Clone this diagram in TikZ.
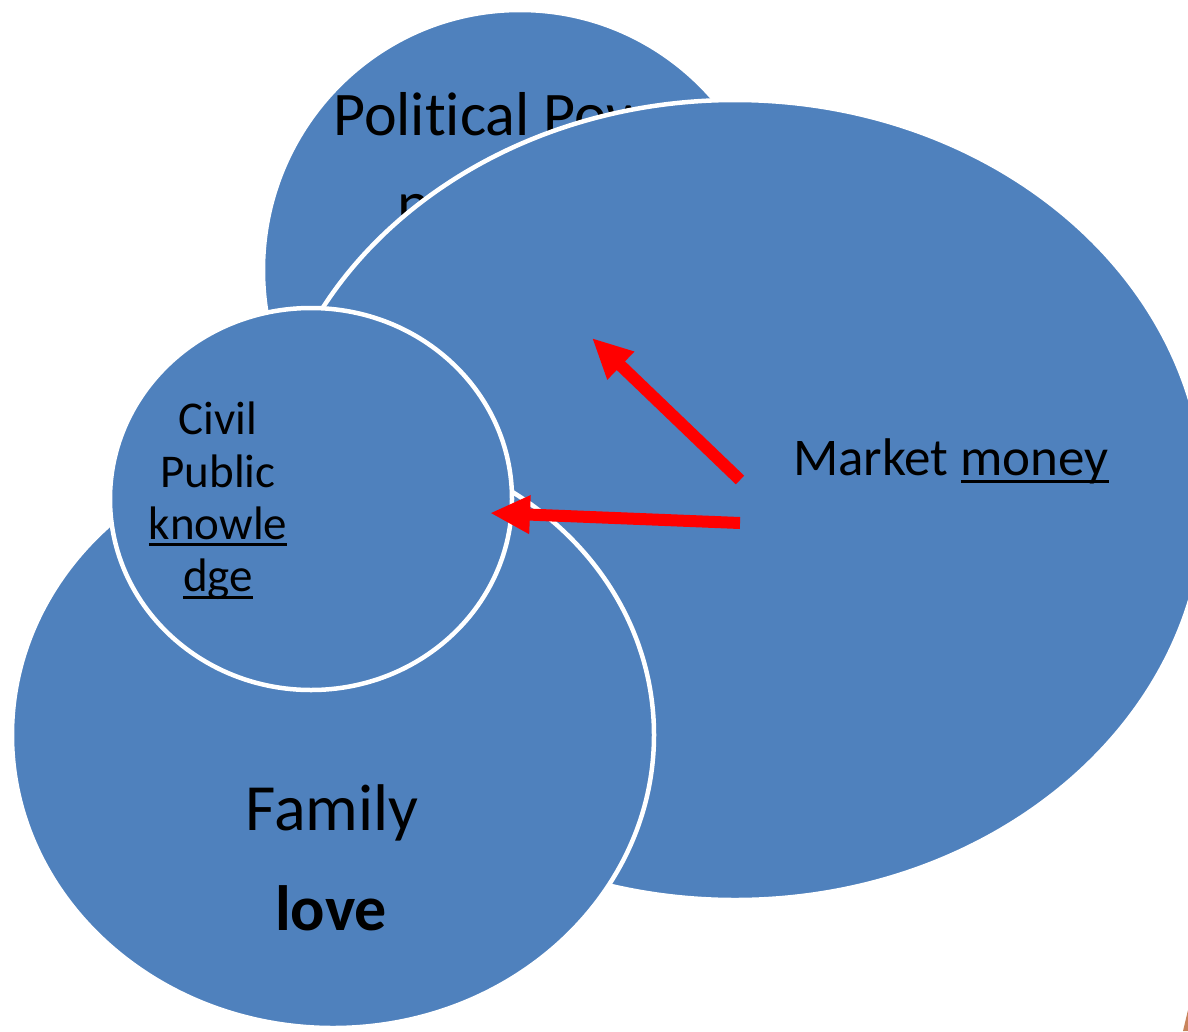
\documentclass[tikz,border=0pt]{standalone}
\usepackage{fontspec}
\setmainfont{Carlito}[RawFeature={-liga;-clig;-dlig}]
\usetikzlibrary{shapes.geometric, arrows.meta}
\definecolor{spherefill}{HTML}{4F81BD}
\definecolor{pushred}{HTML}{FF0000}
\definecolor{cornerorange}{HTML}{C8845C}
\newcommand{\ulword}[1]{\setbox0\hbox{#1}\rlap{\rule[-0.15em]{\wd0}{0.065em}}\box0}
\tikzset{
  sphere/.style = {ellipse, draw=white, fill=spherefill, line width=4.5pt, inner sep=0pt},
  push/.style = {draw=pushred, line width=12pt, -{Triangle[length=40pt,width=36pt]}},
  sphtext/.style = {inner sep=0pt, text=black},
}

\begin{document}
\begin{tikzpicture}[x=1pt, y=-1pt]
\useasboundingbox (0,0) rectangle (1188,1031);
\clip (0,0) rectangle (1188,1031);
% political sphere, behind everything
\node[sphere, minimum width=514pt, minimum height=520pt] (pol) at (520,270) {};
\node[sphtext, anchor=base west, font=\fontsize{62}{74}\selectfont] (poltxt) at (333,135) {Political Power};
\node[sphtext, anchor=base west, font=\fontsize{62}{74}\selectfont] (polword) at (397,224) {power};
% market sphere
\node[sphere, minimum width=940pt, minimum height=800pt] (mkt) at (735,500) {};
\node[sphtext, anchor=base west, font=\fontsize{53}{64}\selectfont] (mkttxt) at (793,475) {Market \ulword{money}};
% family sphere
\node[sphere, minimum width=642pt, minimum height=586pt] (fam) at (333,735) {};
\node[sphtext, anchor=base, font=\fontsize{66}{78}\selectfont] (famtxt) at (332,830) {Family};
\node[sphtext, anchor=base, font=\fontsize{64}{76}\selectfont\bfseries] (love) at (331,930) {love};
% civil sphere
\node[sphere, minimum width=402pt, minimum height=382pt] (civ) at (311,499) {};
\node[sphtext, anchor=north, align=center, font=\fontsize{47}{52.3}\selectfont] (civtxt) at (218,402)
  {Civil\\Public\\\ulword{knowle}\\\ulword{dge}};
% arrows out of the market
\coordinate (m1) at (740,480);
\coordinate (p1) at (592,338);
\coordinate (m2) at (740,523);
\coordinate (p2) at (490,513);
\draw[push] (m1) -- (p1);
\draw[push] (m2) -- (p2);
% corner of a shape off the page
\fill[cornerorange] (1183,1031) -- (1188,1010) -- (1188,1031) -- cycle;
\end{tikzpicture}
\end{document}
